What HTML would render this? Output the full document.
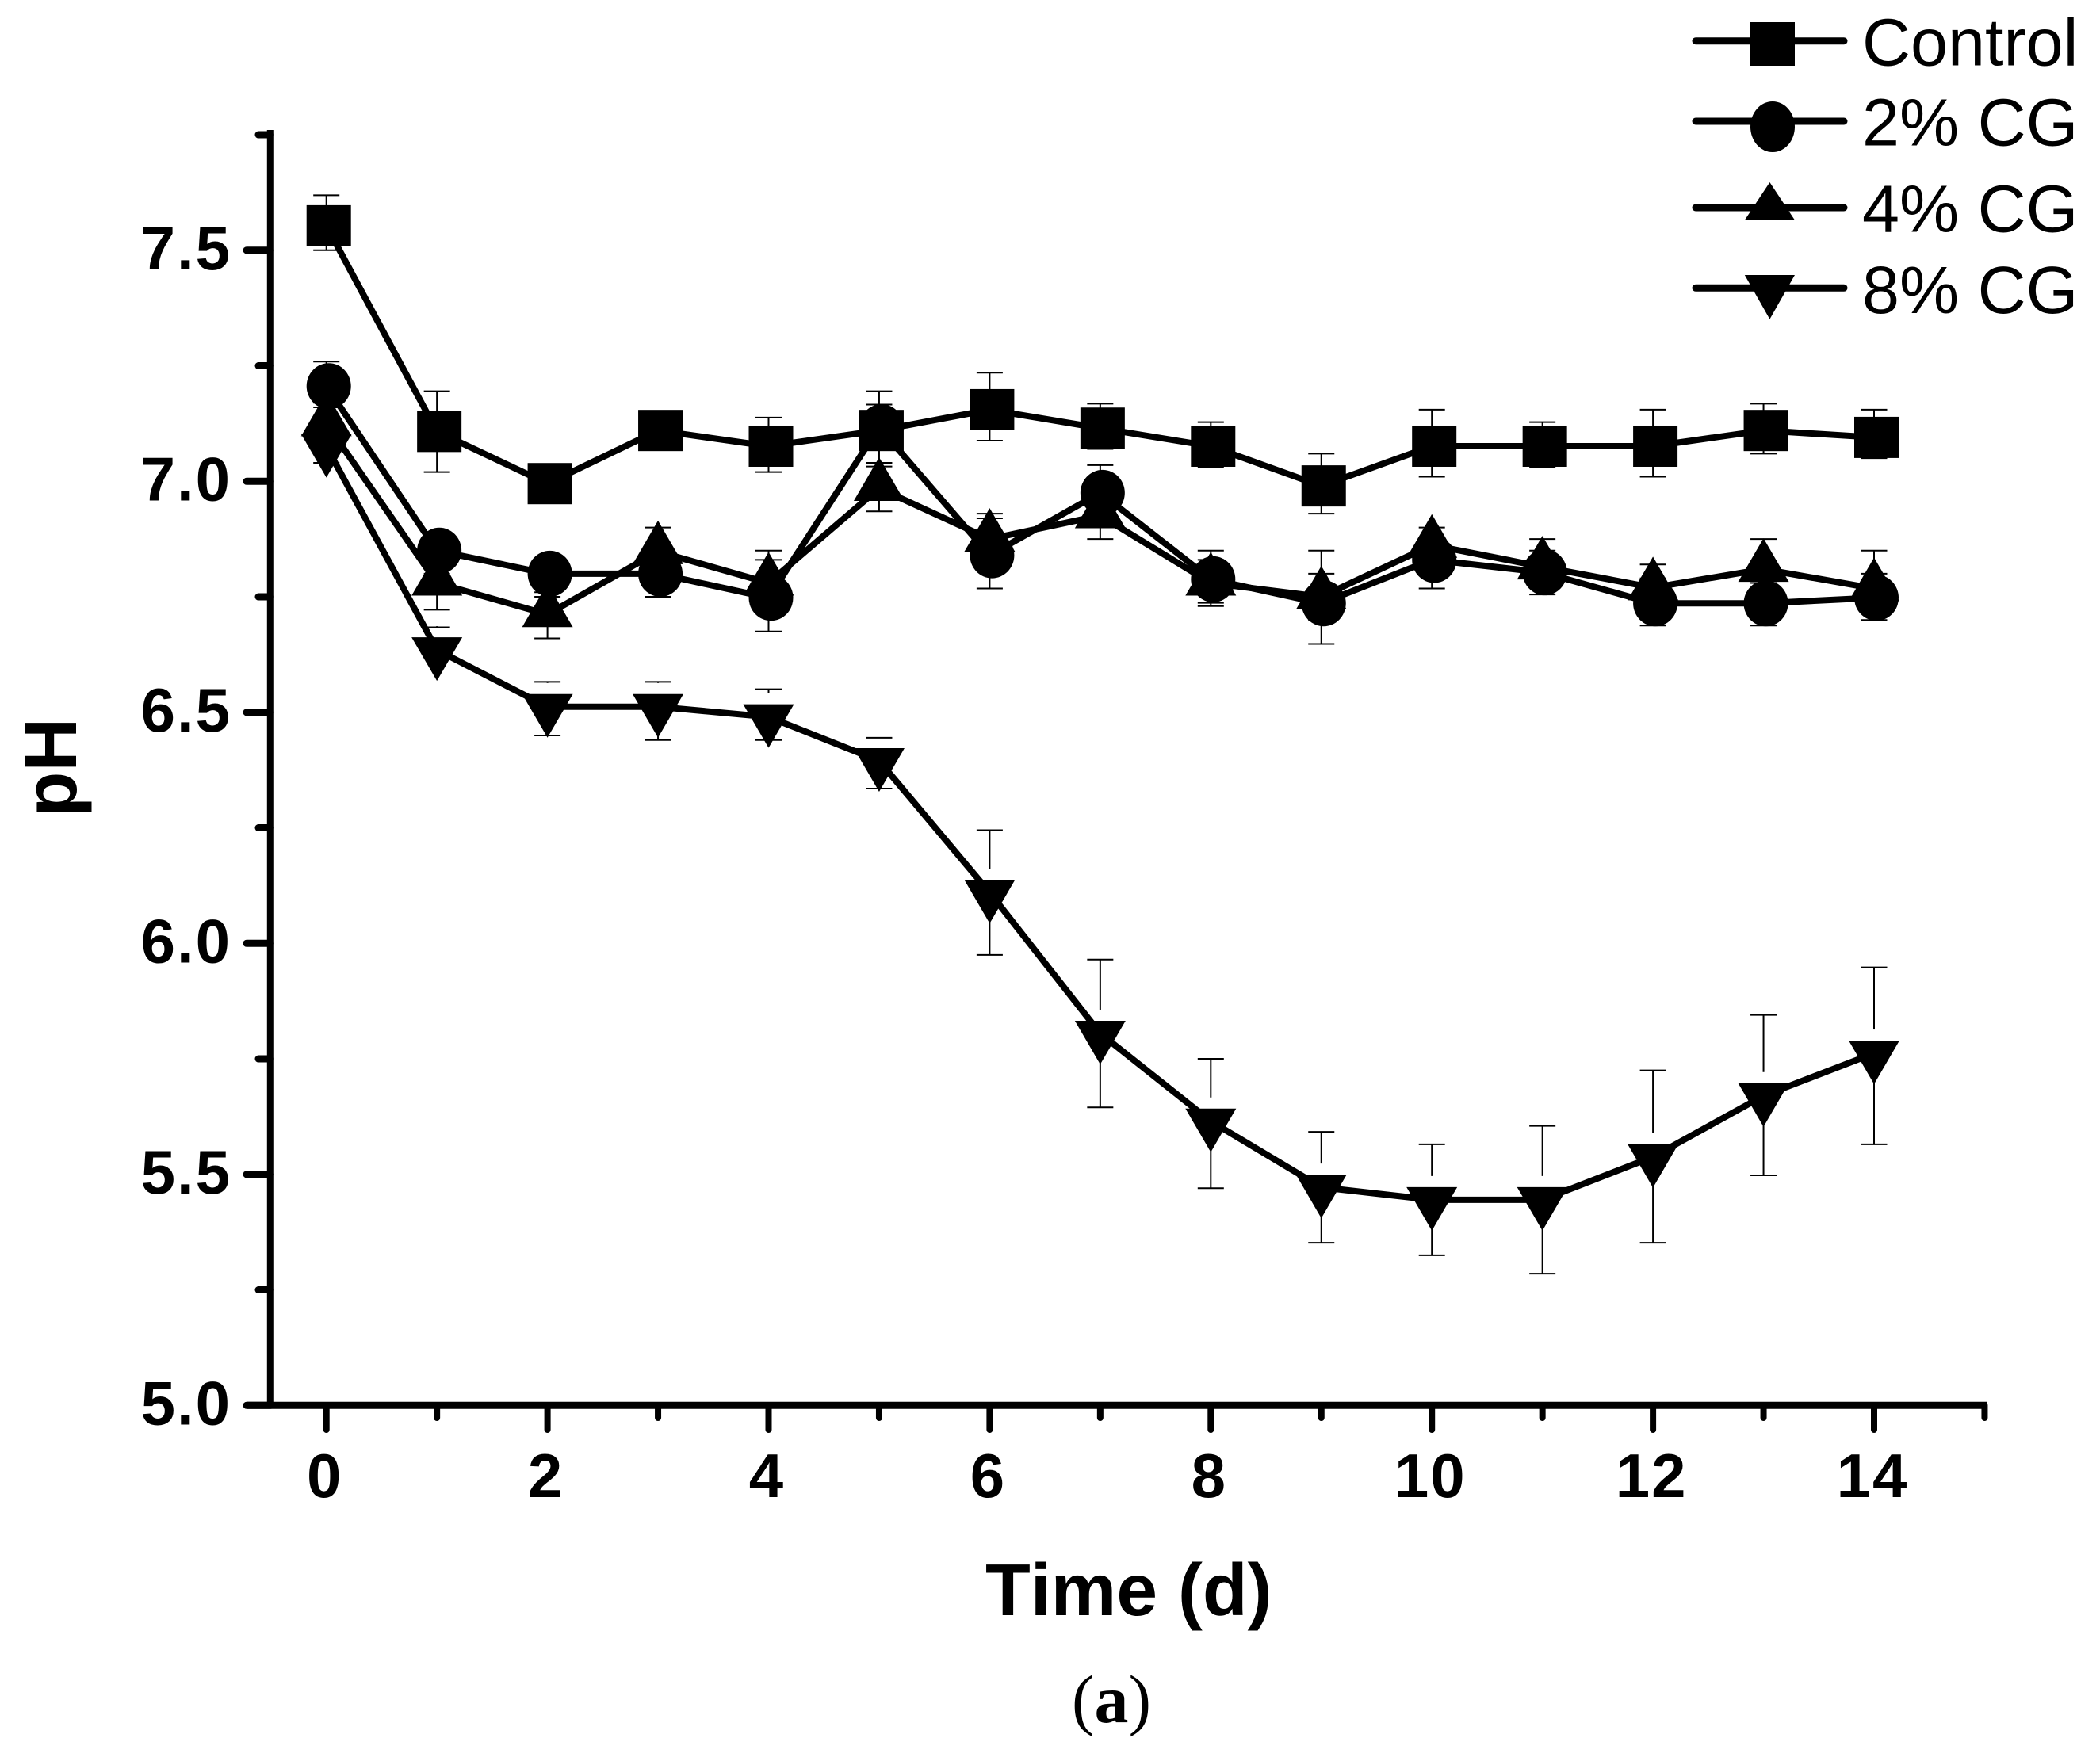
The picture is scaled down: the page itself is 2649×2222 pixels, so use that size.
<!DOCTYPE html>
<html lang="en">
<head>
<meta charset="utf-8">
<title>pH over time</title>
<style>
  html, body { margin: 0; padding: 0; background: #fff; }
  body { width: 2649px; height: 2222px; overflow: hidden; }
  svg { display: block; font-kerning: none; }
  .sans { font-family: "Liberation Sans", sans-serif; }
  .serif { font-family: "Liberation Serif", serif; }
  .tick-label { font-family: "Liberation Sans", sans-serif; font-weight: bold; font-size: 78px; letter-spacing: 2px; fill: #000; }
</style>
</head>
<body>
<svg id="chart" xmlns="http://www.w3.org/2000/svg" width="2649" height="2222" viewBox="0 0 2649 2222">
  <rect x="0" y="0" width="2649" height="2222" fill="#fff"/>
  <g id="axes"></g>
  <g id="plot"></g>

  <text class="sans" x="1243" y="2038" font-size="93" font-weight="bold" fill="#000">Time (d)</text>
  <text class="sans" x="0" y="0" transform="translate(96,1031) rotate(-90)" font-size="94" font-weight="bold" fill="#000">pH</text>
  <text class="serif" x="1402" y="2173" font-size="86" text-anchor="middle" fill="#000">(<tspan font-weight="bold">a</tspan>)</text>

  <g>
    <g>
      <line x1="2139" y1="51.7" x2="2326" y2="51.7" stroke="#000" stroke-width="9" stroke-linecap="round"/>
      <rect x="2208" y="28" width="56" height="55" fill="#000"/>
      <text class="sans" x="2349" y="82.7" font-size="84.5" fill="#000">Control</text>
    </g>
    <g>
      <line x1="2139" y1="153" x2="2326" y2="153" stroke="#000" stroke-width="9" stroke-linecap="round"/>
      <ellipse cx="2236" cy="160" rx="28" ry="32" fill="#000"/>
      <text class="sans" x="2349" y="183.3" font-size="84.5" fill="#000">2% CG</text>
    </g>
    <g>
      <line x1="2139" y1="262" x2="2326" y2="262" stroke="#000" stroke-width="9" stroke-linecap="round"/>
      <polygon points="2232.4,230 2264,277.7 2200.8,277.7" fill="#000"/>
      <text class="sans" x="2349" y="292.7" font-size="84.5" fill="#000">4% CG</text>
    </g>
    <g>
      <line x1="2139" y1="363.3" x2="2326" y2="363.3" stroke="#000" stroke-width="9" stroke-linecap="round"/>
      <polygon points="2200.8,347 2264,347 2232.4,402.7" fill="#000"/>
      <text class="sans" x="2349" y="395" font-size="84.5" fill="#000">8% CG</text>
    </g>
  </g>
</svg>

<script>
// ---- data ----
const days = [0,1,2,3,4,5,6,7,8,9,10,11,12,13,14];
const xMajorTicks = [0,2,4,6,8,10,12,14];
const xMinorTicks = [1,3,5,7,9,11,13,15];
const yMajorTicks = [5.0,5.5,6.0,6.5,7.0,7.5];
const yMinorTicks = [5.25,5.75,6.25,6.75,7.25,7.75];

const controlMean = [7.553,7.108,6.995,7.11,7.076,7.11,7.155,7.115,7.076,6.99,7.076,7.076,7.076,7.11,7.095];
const controlHigh = [7.619,7.195,7.01,7.13,7.138,7.195,7.235,7.168,7.128,7.06,7.155,7.128,7.155,7.168,7.155];
const controlLow  = [7.5,7.02,6.97,7.08,7.02,7.04,7.088,7.07,7.03,6.93,7.01,7.03,7.01,7.06,7.05];

const cg2Mean = [7.206,6.85,6.8,6.80,6.748,7.117,6.84,6.975,6.788,6.736,6.83,6.803,6.736,6.736,6.748];
const cg2High = [7.259,6.87,6.82,6.85,6.83,7.166,6.92,7.035,6.83,6.85,6.87,6.85,6.79,6.78,6.8];
const cg2Low  = [7.16,6.8,6.75,6.75,6.675,7.07,6.768,6.92,6.737,6.648,6.768,6.755,6.688,6.688,6.7];

const cg4Mean = [7.125,6.78,6.712,6.848,6.78,6.985,6.875,6.926,6.78,6.75,6.862,6.815,6.77,6.81,6.768];
const cg4High = [7.17,6.83,6.76,6.9,6.85,7.032,6.93,6.97,6.85,6.8,6.9,6.875,6.82,6.875,6.85];
const cg4Low  = [7.08,6.722,6.66,6.8,6.73,6.935,6.83,6.875,6.73,6.7,6.81,6.77,6.72,6.76,6.72];

const cg8Mean = [7.075,6.635,6.512,6.512,6.49,6.395,6.11,5.805,5.615,5.472,5.445,5.445,5.538,5.67,5.762];
const cg8High = [7.12,6.684,6.566,6.566,6.55,6.445,6.245,5.965,5.75,5.592,5.565,5.605,5.725,5.845,5.948];
const cg8Low  = [7.04,6.635,6.45,6.44,6.44,6.335,5.975,5.645,5.47,5.352,5.325,5.285,5.352,5.498,5.565];

// ---- axis functions ----
function xScale(d) { return 411.7 + d * 139.45; }
function yScale(v) { return 1773.3 - (v - 5) * 583; }

const NS = 'http://www.w3.org/2000/svg';
const axes = document.getElementById('axes');
const plot = document.getElementById('plot');

function make(tag, parent, props) {
  const el = document.createElementNS(NS, tag);
  for (const k in props) el.setAttribute(k, props[k]);
  parent.appendChild(el);
  return el;
}

// ---- axes ----
const xAxisLine = make('line', axes, { x1: 311, y1: yScale(5), x2: 2507, y2: yScale(5), stroke: '#000', 'stroke-width': 9 });



const yAxisLine = make('line', axes, { x1: 341.3, y1: 164, x2: 341.3, y2: yScale(5), stroke: '#000', 'stroke-width': 9 });



xMajorTicks.forEach(function (d) {
  const tick = make('line', axes, { x1: xScale(d), y1: yScale(5), x2: xScale(d), y2: 1804, stroke: '#000', 'stroke-width': 8, 'stroke-linecap': 'round' });
  
  
  const label = make('text', axes, { x: xScale(d) - 2, y: 1889, 'text-anchor': 'middle', class: 'tick-label' });
  label.textContent = String(d);
  
  
});

xMinorTicks.forEach(function (d) {
  const tick = make('line', axes, { x1: xScale(d), y1: yScale(5), x2: xScale(d), y2: 1789, stroke: '#000', 'stroke-width': 8, 'stroke-linecap': 'round' });
  
  
});

yMajorTicks.forEach(function (v) {
  const tick = make('line', axes, { x1: 341.3, y1: yScale(v), x2: 311, y2: yScale(v), stroke: '#000', 'stroke-width': 9, 'stroke-linecap': 'round' });
  
  
  const label = make('text', axes, { x: 292, y: yScale(v) + 24, 'text-anchor': 'end', class: 'tick-label' });
  label.textContent = v.toFixed(1);
  
  
});

yMinorTicks.forEach(function (v) {
  const tick = make('line', axes, { x1: 341.3, y1: yScale(v), x2: 326, y2: yScale(v), stroke: '#000', 'stroke-width': 9, 'stroke-linecap': 'round' });
  
  
});

// ---- series ----
function drawErrors(group, means, highs, lows, topGap) {
  days.forEach(function (d, i) {
    const x = xScale(d);
    const hi = yScale(highs[i]);
    const lo = yScale(lows[i]);
    const mid = yScale(means[i]);
    const up = make('line', group, { x1: x, y1: hi, x2: x, y2: mid - topGap, stroke: '#000', 'stroke-width': 2 });
    
    
    const down = make('line', group, { x1: x, y1: mid, x2: x, y2: lo, stroke: '#000', 'stroke-width': 2 });
    
    
    const capTop = make('line', group, { x1: x - 16.5, y1: hi, x2: x + 16.5, y2: hi, stroke: '#000', 'stroke-width': 2 });
    
    
    const capBottom = make('line', group, { x1: x - 16.5, y1: lo, x2: x + 16.5, y2: lo, stroke: '#000', 'stroke-width': 2 });
    
    
  });
}

function drawLine(group, means) {
  const pts = days.map(function (d, i) { return xScale(d) + ',' + yScale(means[i]); }).join(' ');
  const line = make('polyline', group, { points: pts, fill: 'none', stroke: '#000', 'stroke-width': 8, 'stroke-linejoin': 'round' });
  
  
}

function marker(kind, group, cx, cy) {
  if (kind === 'square') return make('rect', group, { x: cx + 3 - 28, y: cy - 26, width: 56, height: 52, fill: '#000' });
  if (kind === 'circle') return make('ellipse', group, { cx: cx + 3, cy: cy, rx: 28, ry: 29, fill: '#000' });
  if (kind === 'up') return make('polygon', group, { points: cx + ',' + (cy - 39) + ' ' + (cx + 32) + ',' + (cy + 16) + ' ' + (cx - 32) + ',' + (cy + 16), fill: '#000' });
  return make('polygon', group, { points: (cx - 32) + ',' + (cy - 16) + ' ' + (cx + 32) + ',' + (cy - 16) + ' ' + cx + ',' + (cy + 39), fill: '#000' });
}

function drawSeries(name, kind, means, highs, lows, topGap) {
  const group = make('g', plot, {});
  
  
  drawErrors(group, means, highs, lows, topGap);
  drawLine(group, means);
  days.forEach(function (d, i) {
    const m = marker(kind, group, xScale(d), yScale(means[i]));
    
    
  });
}

drawSeries('series-8-percent-cg', 'down', cg8Mean, cg8High, cg8Low, 30);
drawSeries('series-4-percent-cg', 'up', cg4Mean, cg4High, cg4Low, 0);
drawSeries('series-2-percent-cg', 'circle', cg2Mean, cg2High, cg2Low, 0);
drawSeries('series-control', 'square', controlMean, controlHigh, controlLow, 0);
</script>
</body>
</html>
